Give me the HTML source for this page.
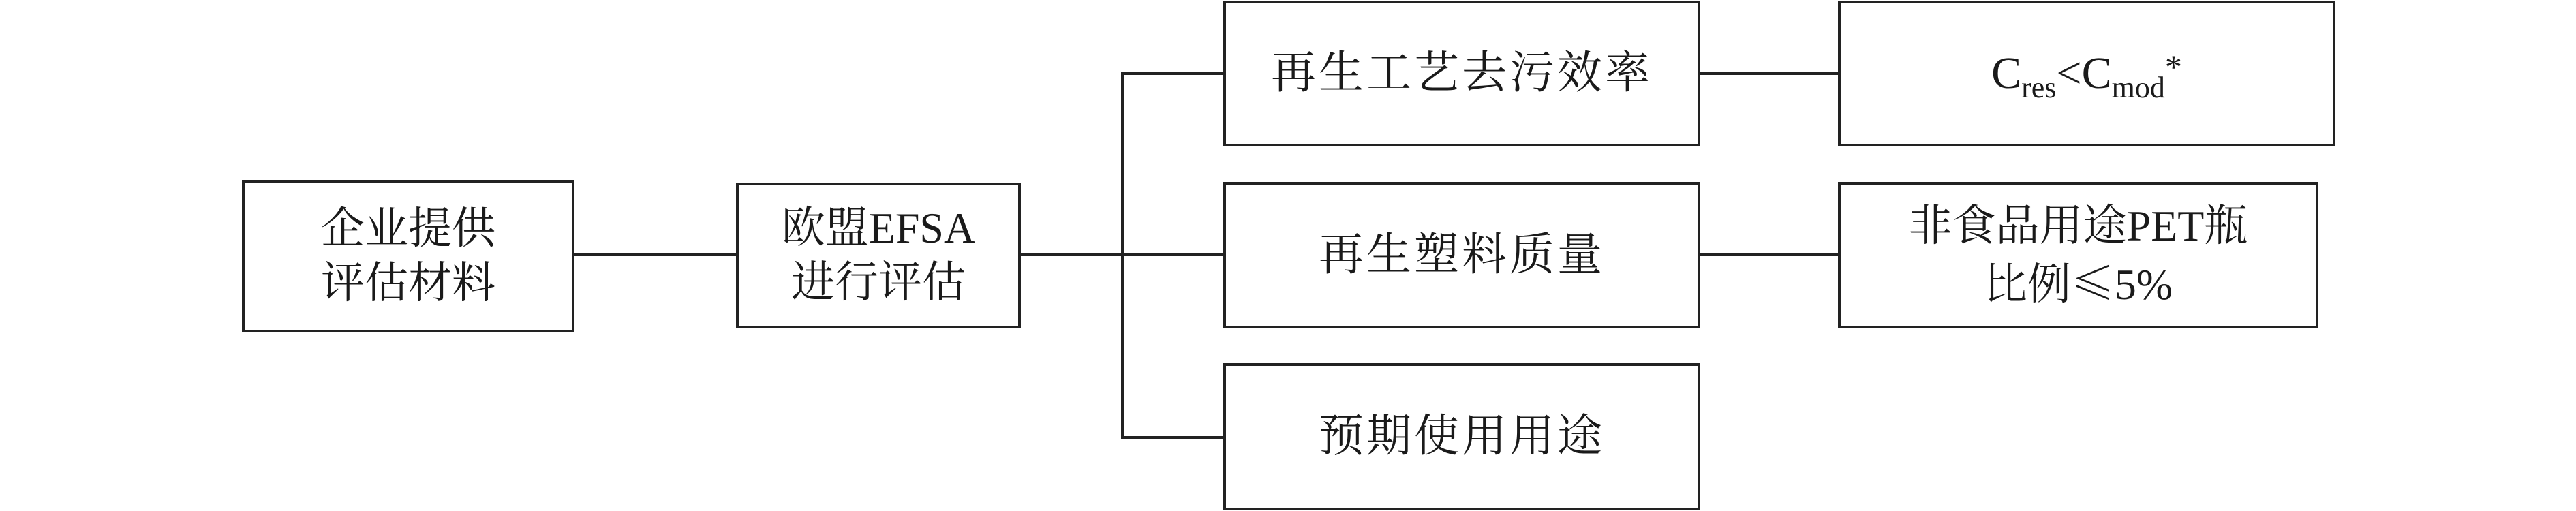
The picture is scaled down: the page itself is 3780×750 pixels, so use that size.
<!DOCTYPE html>
<html><head><meta charset="utf-8"><style>
html,body{margin:0;padding:0;background:#fff;}
body{width:3780px;height:750px;position:relative;overflow:hidden;font-family:"Liberation Serif","Noto Serif CJK SC",serif;color:#1a1a1a;}
.b{position:absolute;box-sizing:border-box;border:4px solid #222;display:flex;align-items:center;justify-content:center;text-align:center;font-size:64px;line-height:80px;}
.h{position:absolute;height:4px;background:#222;}
.v{position:absolute;width:4px;background:#222;}
.w{letter-spacing:4px;font-size:66px;}
sub{font-size:44px;vertical-align:-14px;line-height:0;}
sup{font-size:50px;vertical-align:14px;line-height:0;}
.cj{font-family:"Noto Serif CJK SC",serif;}
</style></head><body>
<div class="b" style="left:355px;top:264px;width:488px;height:224px;"><div>企业提供<br>评估材料</div></div>
<div class="b" style="left:1080px;top:268px;width:418px;height:214px;"><div>欧盟EFSA<br>进行评估</div></div>
<div class="b w" style="left:1795px;top:1px;width:700px;height:214px;"><div>再生工艺去污效率</div></div>
<div class="b w" style="left:1795px;top:267px;width:700px;height:215px;"><div>再生塑料质量</div></div>
<div class="b w" style="left:1795px;top:533px;width:700px;height:216px;"><div>预期使用用途</div></div>
<div class="b" style="left:2697px;top:1px;width:730px;height:214px;font-size:66px;"><div>C<sub>res</sub>&lt;C<sub>mod</sub><sup>*</sup></div></div>
<div class="b" style="left:2697px;top:267px;width:705px;height:215px;"><div>非食品用途PET瓶<br>比例<span class="cj">≤</span>5%</div></div>
<div class="h" style="left:843px;top:372px;width:237px;"></div>
<div class="h" style="left:1498px;top:372px;width:297px;"></div>
<div class="v" style="left:1645px;top:106px;height:538px;"></div>
<div class="h" style="left:1645px;top:106px;width:150px;"></div>
<div class="h" style="left:1645px;top:640px;width:150px;"></div>
<div class="h" style="left:2495px;top:106px;width:202px;"></div>
<div class="h" style="left:2495px;top:372px;width:202px;"></div>
</body></html>
